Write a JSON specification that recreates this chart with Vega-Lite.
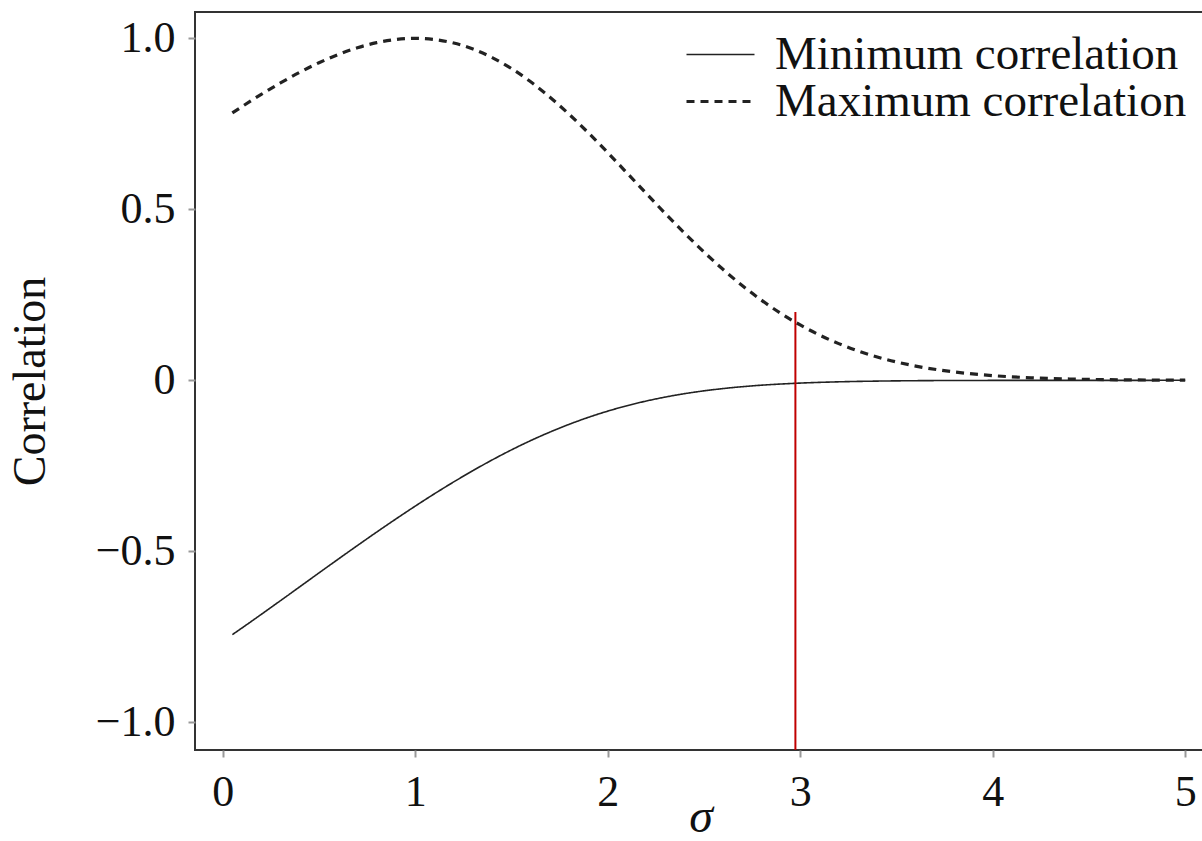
{
  "$schema": "https://vega.github.io/schema/vega-lite/v6.json",
  "autosize": {"type": "none"},
  "padding": {"left": 195, "top": 12, "right": -4, "bottom": 91},
  "width": 1011,
  "height": 738,
  "background": "white",
  "config": {
    "view": {"stroke": "#333333", "strokeWidth": 2},
    "font": "Liberation Serif",
    "axis": {
      "grid": false,
      "domain": false,
      "tickColor": "#999999",
      "tickWidth": 2,
      "tickSize": 7,
      "labelFont": "Liberation Serif",
      "labelFontSize": 44,
      "labelColor": "#111111",
      "labelPadding": 13,
      "titleFont": "Liberation Serif",
      "titleColor": "#111111",
      "titleFontWeight": "normal"
    },
    "legend": {
      "orient": "top-right",
      "offset": 19,
      "padding": 0,
      "labelFont": "Liberation Serif",
      "labelFontSize": 47,
      "labelColor": "#111111",
      "labelLimit": 0,
      "symbolType": "M-4,0H4",
      "symbolSize": 289,
      "symbolStrokeColor": "#222222",
      "labelOffset": 31,
      "rowPadding": -3
    }
  },
  "datasets": {
    "curves": [
      {"sigma": 0.05, "value": 0.7818, "series": "Maximum correlation"},
      {"sigma": 0.1, "value": 0.8003, "series": "Maximum correlation"},
      {"sigma": 0.2, "value": 0.8361, "series": "Maximum correlation"},
      {"sigma": 0.3, "value": 0.8697, "series": "Maximum correlation"},
      {"sigma": 0.4, "value": 0.9007, "series": "Maximum correlation"},
      {"sigma": 0.5, "value": 0.9286, "series": "Maximum correlation"},
      {"sigma": 0.6, "value": 0.9527, "series": "Maximum correlation"},
      {"sigma": 0.7, "value": 0.9726, "series": "Maximum correlation"},
      {"sigma": 0.8, "value": 0.9874, "series": "Maximum correlation"},
      {"sigma": 0.9, "value": 0.9968, "series": "Maximum correlation"},
      {"sigma": 1.0, "value": 1.0, "series": "Maximum correlation"},
      {"sigma": 1.1, "value": 0.9966, "series": "Maximum correlation"},
      {"sigma": 1.2, "value": 0.9863, "series": "Maximum correlation"},
      {"sigma": 1.3, "value": 0.9687, "series": "Maximum correlation"},
      {"sigma": 1.4, "value": 0.9437, "series": "Maximum correlation"},
      {"sigma": 1.5, "value": 0.9117, "series": "Maximum correlation"},
      {"sigma": 1.6, "value": 0.8729, "series": "Maximum correlation"},
      {"sigma": 1.7, "value": 0.8279, "series": "Maximum correlation"},
      {"sigma": 1.8, "value": 0.7777, "series": "Maximum correlation"},
      {"sigma": 1.9, "value": 0.7233, "series": "Maximum correlation"},
      {"sigma": 2.0, "value": 0.6658, "series": "Maximum correlation"},
      {"sigma": 2.1, "value": 0.6064, "series": "Maximum correlation"},
      {"sigma": 2.2, "value": 0.5465, "series": "Maximum correlation"},
      {"sigma": 2.3, "value": 0.4873, "series": "Maximum correlation"},
      {"sigma": 2.4, "value": 0.4299, "series": "Maximum correlation"},
      {"sigma": 2.5, "value": 0.3752, "series": "Maximum correlation"},
      {"sigma": 2.6, "value": 0.3239, "series": "Maximum correlation"},
      {"sigma": 2.7, "value": 0.2767, "series": "Maximum correlation"},
      {"sigma": 2.8, "value": 0.2338, "series": "Maximum correlation"},
      {"sigma": 2.9, "value": 0.1955, "series": "Maximum correlation"},
      {"sigma": 3.0, "value": 0.1618, "series": "Maximum correlation"},
      {"sigma": 3.2, "value": 0.1073, "series": "Maximum correlation"},
      {"sigma": 3.4, "value": 0.0682, "series": "Maximum correlation"},
      {"sigma": 3.6, "value": 0.0417, "series": "Maximum correlation"},
      {"sigma": 3.8, "value": 0.0244, "series": "Maximum correlation"},
      {"sigma": 4.0, "value": 0.0137, "series": "Maximum correlation"},
      {"sigma": 4.2, "value": 0.0074, "series": "Maximum correlation"},
      {"sigma": 4.4, "value": 0.0038, "series": "Maximum correlation"},
      {"sigma": 4.6, "value": 0.0019, "series": "Maximum correlation"},
      {"sigma": 4.8, "value": 0.0009, "series": "Maximum correlation"},
      {"sigma": 5.0, "value": 0.0004, "series": "Maximum correlation"},
      {"sigma": 0.05, "value": -0.7437, "series": "Minimum correlation"},
      {"sigma": 0.1, "value": -0.7242, "series": "Minimum correlation"},
      {"sigma": 0.2, "value": -0.6845, "series": "Minimum correlation"},
      {"sigma": 0.3, "value": -0.6443, "series": "Minimum correlation"},
      {"sigma": 0.4, "value": -0.6038, "series": "Minimum correlation"},
      {"sigma": 0.5, "value": -0.5632, "series": "Minimum correlation"},
      {"sigma": 0.6, "value": -0.5229, "series": "Minimum correlation"},
      {"sigma": 0.7, "value": -0.4830, "series": "Minimum correlation"},
      {"sigma": 0.8, "value": -0.4437, "series": "Minimum correlation"},
      {"sigma": 0.9, "value": -0.4053, "series": "Minimum correlation"},
      {"sigma": 1.0, "value": -0.3679, "series": "Minimum correlation"},
      {"sigma": 1.1, "value": -0.3317, "series": "Minimum correlation"},
      {"sigma": 1.2, "value": -0.2971, "series": "Minimum correlation"},
      {"sigma": 1.3, "value": -0.2640, "series": "Minimum correlation"},
      {"sigma": 1.4, "value": -0.2327, "series": "Minimum correlation"},
      {"sigma": 1.5, "value": -0.2034, "series": "Minimum correlation"},
      {"sigma": 1.6, "value": -0.1762, "series": "Minimum correlation"},
      {"sigma": 1.7, "value": -0.1513, "series": "Minimum correlation"},
      {"sigma": 1.8, "value": -0.1286, "series": "Minimum correlation"},
      {"sigma": 1.9, "value": -0.1082, "series": "Minimum correlation"},
      {"sigma": 2.0, "value": -0.0901, "series": "Minimum correlation"},
      {"sigma": 2.1, "value": -0.0743, "series": "Minimum correlation"},
      {"sigma": 2.2, "value": -0.0606, "series": "Minimum correlation"},
      {"sigma": 2.3, "value": -0.0489, "series": "Minimum correlation"},
      {"sigma": 2.4, "value": -0.0390, "series": "Minimum correlation"},
      {"sigma": 2.5, "value": -0.0308, "series": "Minimum correlation"},
      {"sigma": 2.6, "value": -0.0241, "series": "Minimum correlation"},
      {"sigma": 2.7, "value": -0.0186, "series": "Minimum correlation"},
      {"sigma": 2.8, "value": -0.0142, "series": "Minimum correlation"},
      {"sigma": 2.9, "value": -0.0108, "series": "Minimum correlation"},
      {"sigma": 3.0, "value": -0.0081, "series": "Minimum correlation"},
      {"sigma": 3.2, "value": -0.0044, "series": "Minimum correlation"},
      {"sigma": 3.4, "value": -0.0023, "series": "Minimum correlation"},
      {"sigma": 3.6, "value": -0.0011, "series": "Minimum correlation"},
      {"sigma": 3.8, "value": -0.0005, "series": "Minimum correlation"},
      {"sigma": 4.0, "value": -0.0003, "series": "Minimum correlation"},
      {"sigma": 4.5, "value": -0.0001, "series": "Minimum correlation"},
      {"sigma": 5.0, "value": 0.0, "series": "Minimum correlation"}
    ],
    "marker": [
      {"sigma": 2.975, "top": 0.2, "bottom": -1.081}
    ]
  },
  "layer": [
    {
      "mark": {"type": "rule", "color": "#111111", "strokeWidth": 2},
      "encoding": {"y": {"datum": 0}}
    },
    {
      "data": {"name": "curves"},
      "mark": {"type": "line", "interpolate": "monotone", "color": "#222222"},
      "encoding": {
        "x": {
          "field": "sigma",
          "type": "quantitative",
          "scale": {"domain": [-0.144, 5.108], "nice": false, "zero": false},
          "axis": {
            "values": [0, 1, 2, 3, 4, 5],
            "format": "d",
            "title": "σ",
            "titleFontSize": 48,
            "titleFontStyle": "italic",
            "titlePadding": -21
          }
        },
        "y": {
          "field": "value",
          "type": "quantitative",
          "scale": {"domain": [-1.081, 1.077], "nice": false, "zero": false},
          "axis": {
            "values": [-1, -0.5, 0, 0.5, 1],
            "labelExpr": "datum.value == 0 ? '0' : format(datum.value, '.1f')",
            "title": "Correlation",
            "titleFontSize": 46,
            "titlePadding": 41
          }
        },
        "strokeDash": {
          "field": "series",
          "type": "ordinal",
          "scale": {
            "domain": ["Minimum correlation", "Maximum correlation"],
            "range": [[1, 0], [8, 6]]
          },
          "legend": {"title": null}
        },
        "strokeWidth": {
          "field": "series",
          "type": "ordinal",
          "scale": {
            "domain": ["Minimum correlation", "Maximum correlation"],
            "range": [1.6, 3.2]
          },
          "legend": {"title": null}
        }
      }
    },
    {
      "data": {"name": "marker"},
      "mark": {"type": "rule", "color": "#c00000", "strokeWidth": 2},
      "encoding": {
        "x": {"field": "sigma", "type": "quantitative"},
        "y": {"field": "top", "type": "quantitative"},
        "y2": {"field": "bottom"}
      }
    }
  ]
}
